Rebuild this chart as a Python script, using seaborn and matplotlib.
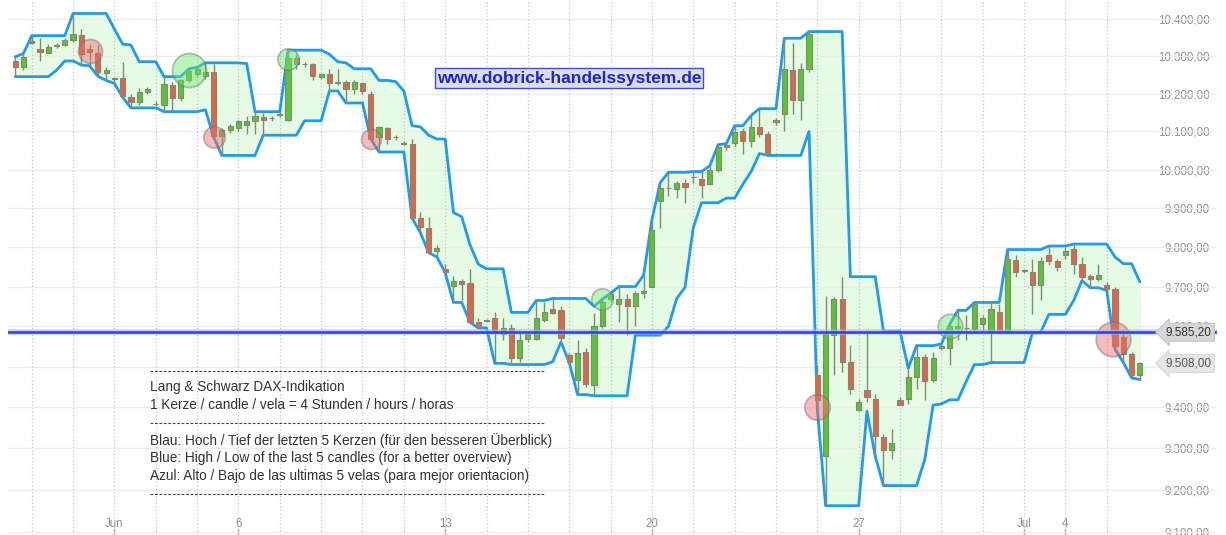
import numpy as np
import pandas as pd
import matplotlib
matplotlib.use("Agg")
import matplotlib.pyplot as plt
import seaborn as sns
from matplotlib.lines import Line2D
from matplotlib.ticker import NullLocator, NullFormatter

# 4h candles, Lang & Schwarz DAX indication (end of May .. 5 July)
opens = [
    10286, 10270, 10341, 10320, 10309, 10326, 10329, 10343, 10356, 10318,
    10308, 10255, 10240, 10241, 10191, 10178, 10205, 10172, 10170, 10222,
    10188, 10236, 10252, 10248, 10258, 10089, 10104, 10109, 10117, 10128,
    10138, 10134, 10143, 10130, 10294, 10278, 10278, 10244, 10252, 10229,
    10232, 10211, 10229, 10199, 10085, 10109, 10085, 10070, 10068, 9876,
    9848, 9790, 9745, 9702, 9713, 9710, 9612, 9615, 9620, 9582,
    9596, 9520, 9568, 9568, 9617, 9643, 9641, 9528, 9466, 9535,
    9455, 9601, 9668, 9655, 9668, 9651, 9683, 9700, 9919, 9951,
    9949, 9964, 9981, 9975, 9962, 9998, 10063, 10070, 10100, 10075,
    10111, 10094, 10124, 10146, 10262, 10184, 10266, 9480, 9282, 9578,
    9668, 9511, 9392, 9441, 9421, 9328, 9295, 9418, 9420, 9475,
    9523, 9466, 9546, 9547, 9596, 9596, 9594, 9605, 9589, 9636,
    9588, 9767, 9740, 9738, 9703, 9779, 9765, 9779, 9795, 9756,
    9727, 9718, 9704, 9694, 9573, 9530, 9478,
]
highs = [
    10298, 10307, 10355, 10348, 10332, 10334, 10349, 10415, 10373, 10332,
    10330, 10270, 10245, 10285, 10200, 10215, 10218, 10180, 10245, 10230,
    10240, 10266, 10270, 10282, 10280, 10108, 10120, 10130, 10140, 10152,
    10148, 10140, 10150, 10316, 10305, 10285, 10282, 10255, 10266, 10266,
    10235, 10235, 10232, 10207, 10115, 10112, 10090, 10074, 10080, 9889,
    9878, 9806, 9757, 9727, 9720, 9745, 9620, 9618, 9635, 9620,
    9605, 9583, 9585, 9665, 9660, 9670, 9650, 9534, 9567, 9545,
    9634, 9668, 9683, 9700, 9680, 9690, 9729, 9871, 9966, 9993,
    9970, 9975, 9995, 9995, 10010, 10065, 10068, 10115, 10110, 10142,
    10160, 10100, 10135, 10348, 10334, 10282, 10366, 9505, 9676, 9673,
    9725, 9553, 9420, 9588, 9433, 9335, 9348, 9425, 9496, 9552,
    9530, 9535, 9556, 9605, 9640, 9628, 9660, 9628, 9660, 9657,
    9794, 9780, 9745, 9770, 9775, 9803, 9770, 9800, 9808, 9775,
    9733, 9758, 9712, 9700, 9590, 9535, 9512,
]
lows = [
    10245, 10262, 10332, 10287, 10307, 10323, 10326, 10338, 10276, 10274,
    10246, 10235, 10227, 10190, 10162, 10170, 10200, 10166, 10152, 10157,
    10180, 10230, 10245, 10240, 10085, 10037, 10095, 10100, 10094, 10092,
    10090, 10128, 10138, 10128, 10265, 10270, 10236, 10240, 10207, 10222,
    10175, 10200, 10200, 10080, 10046, 10068, 10078, 10064, 9874, 9837,
    9786, 9775, 9735, 9660, 9665, 9610, 9596, 9612, 9508, 9565,
    9505, 9512, 9561, 9565, 9610, 9630, 9563, 9510, 9431, 9450,
    9428, 9595, 9660, 9612, 9578, 9600, 9670, 9698, 9850, 9932,
    9926, 9914, 9965, 9926, 9962, 9995, 10050, 10062, 10042, 10060,
    10085, 10037, 10117, 10100, 10146, 10131, 10258, 9395, 9162, 9478,
    9487, 9433, 9390, 9413, 9281, 9210, 9273, 9405, 9408, 9445,
    9418, 9463, 9540, 9505, 9567, 9567, 9585, 9587, 9510, 9583,
    9585, 9725, 9735, 9630, 9665, 9755, 9740, 9770, 9733, 9715,
    9697, 9715, 9690, 9543, 9510, 9472, 9468,
]
closes = [
    10270, 10297, 10335, 10311, 10324, 10331, 10343, 10359, 10305, 10311,
    10258, 10263, 10241, 10193, 10177, 10203, 10213, 10173, 10226, 10187,
    10235, 10261, 10265, 10257, 10089, 10104, 10113, 10127, 10128, 10140,
    10130, 10135, 10147, 10294, 10278, 10279, 10248, 10251, 10228, 10230,
    10211, 10232, 10207, 10081, 10112, 10081, 10086, 10066, 9876, 9851,
    9787, 9797, 9737, 9713, 9707, 9612, 9598, 9614, 9583, 9597,
    9522, 9567, 9580, 9620, 9636, 9633, 9571, 9511, 9534, 9458,
    9601, 9662, 9680, 9668, 9651, 9683, 9688, 9844, 9951, 9952,
    9964, 9955, 9982, 9960, 9998, 10060, 10058, 10099, 10075, 10111,
    10094, 10040, 10131, 10266, 10184, 10266, 10360, 9418, 9583, 9668,
    9511, 9445, 9412, 9424, 9330, 9295, 9312, 9406, 9475, 9523,
    9464, 9521, 9552, 9601, 9602, 9597, 9655, 9620, 9643, 9588,
    9770, 9738, 9741, 9703, 9764, 9765, 9750, 9791, 9756, 9723,
    9718, 9729, 9694, 9552, 9531, 9478, 9508,
]

# candle index of the first candle of each trading day
day_starts = [2, 7, 12, 17, 22, 27, 32, 37, 42, 47, 52, 57, 62, 67, 72,
              77, 82, 87, 92, 97, 102, 107, 112, 117, 122, 127, 132]
date_ticks = [12, 27, 52, 77, 102, 122, 127]
date_labels = ["Jun", "6", "13", "20", "27", "Jul", "4"]
price_ticks = [9100, 9200, 9300, 9400, 9500, 9600, 9700, 9800,
               9900, 10000, 10100, 10200, 10300, 10400]

last_quote = 9585.20
last_close = 9508.00

# signal circles: candle position, price, radius (px), type
sig_pos = [9, 21, 24, 33, 43, 71, 97, 113, 132.7]
sig_price = [10313, 10262, 10086, 10292, 10081, 9668, 9400, 9600, 9569]
sig_radius = [12, 17, 10.7, 10.7, 10, 10.7, 12.7, 12.3, 17.3]
sig_kind = ["sell", "buy", "sell", "buy", "sell", "buy", "sell", "buy", "sell"]

notes = [
    "Lang & Schwarz DAX-Indikation",
    "1 Kerze / candle / vela = 4 Stunden / hours / horas",
    "Blau: Hoch / Tief der letzten 5 Kerzen (für den besseren Überblick)",
    "Blue: High / Low of the last 5 candles (for a better overview)",
    "Azul: Alto / Bajo de las ultimas 5 velas (para mejor orientacion)",
]


def de_price(v):
    return f"{v:,.2f}".replace(",", "X").replace(".", ",").replace("X", ".")


def main():
    sns.set_theme(style="white")
    plt.rcParams["font.family"] = ["Liberation Sans", "DejaVu Sans"]

    W, H = 1226, 535
    fig = plt.figure(figsize=(W / 100, H / 100), dpi=100)
    ax = fig.add_axes([8 / W, 0, 1209 / W, 1])

    df = pd.DataFrame({"open": opens, "high": highs, "low": lows, "close": closes})
    df["idx"] = np.arange(len(df))
    df["upper"] = df["high"].rolling(5, min_periods=1).max()
    df["lower"] = df["low"].rolling(5, min_periods=1).min()

    ax.set_yscale("log")
    ax.set_xlim(-0.866, 145.33)
    ax.set_ylim(9092.3, 10451.6)

    # grid
    for p in price_ticks:
        ax.axhline(p, color="#ececec", lw=1, zorder=1.5)
    for d in day_starts:
        ax.axvline(d, color="#c6c6c6", lw=0.9, ls=(0, (1, 1.8)), zorder=1.5)

    # channel of the last 5 candles
    ax.fill_between(df["idx"], df["lower"], df["upper"], color="#e6fbe4", zorder=1)
    sns.lineplot(data=df, x="idx", y="upper", ax=ax, color="#1f9cf0", lw=2, zorder=3)
    sns.lineplot(data=df, x="idx", y="lower", ax=ax, color="#1f9cf0", lw=2, zorder=3)

    # candles
    up = df["close"] >= df["open"]
    body_col = np.where(up, "#5cc236", "#df654a")
    ax.vlines(df["idx"], df["low"], df["high"], color="#7f8b73", lw=1, zorder=4)
    bottom = np.minimum(df["open"], df["close"])
    height = np.maximum(np.abs(df["close"] - df["open"]), 1.0)
    ax.bar(df["idx"], height, bottom=bottom, width=0.62, color=body_col,
           edgecolor="#7f8b73", linewidth=0.8, zorder=5)

    # signal circles
    for pos, pr, r, kind in zip(sig_pos, sig_price, sig_radius, sig_kind):
        fc = "#f06a6a" if kind == "sell" else "#6ae86a"
        ax.scatter([pos], [pr], s=(2 * r * 0.72) ** 2, color=fc, alpha=0.45,
                   edgecolors="#6f6f6f", linewidths=1.3, zorder=6)

    # last quote line
    ax.axhline(last_quote, color="#9fb0ff", lw=4, alpha=0.6, zorder=7)
    ax.axhline(last_quote, color="#2a40f0", lw=1.8, zorder=7)

    # axes styling
    for s in ax.spines.values():
        s.set_visible(False)
    ax.set_xlabel("")
    ax.set_ylabel("")
    ax.yaxis.tick_right()
    ax.set_yticks(price_ticks, [de_price(p) for p in price_ticks])
    ax.yaxis.set_minor_locator(NullLocator())
    ax.yaxis.set_minor_formatter(NullFormatter())
    ax.tick_params(axis="y", which="major", length=0, pad=-5,
                   labelsize=8.3, labelcolor="#8e8e8e")
    for t in ax.get_yticklabels():
        t.set_horizontalalignment("right")
        t.set_bbox(dict(fc="white", ec="none", pad=1.0))
    ax.set_xticks(date_ticks, date_labels)
    ax.tick_params(axis="x", direction="in", length=4, width=1, color="#8e8e8e",
                   pad=-12, labelsize=8.3, labelcolor="#8e8e8e", bottom=True)

    # price boxes on the right
    trans = ax.get_yaxis_transform()
    ax.annotate(de_price(last_quote), xy=(1.0, last_quote), xycoords=trans,
                xytext=(-4, 0), textcoords="offset points", ha="right", va="center",
                fontsize=8.5, color="#333333", zorder=9,
                bbox=dict(boxstyle="larrow,pad=0.25", fc="#d6d6d6", ec="#c4c4c4", lw=0.8))
    ax.annotate(de_price(last_close), xy=(1.0, last_close), xycoords=trans,
                xytext=(-4, 0), textcoords="offset points", ha="right", va="center",
                fontsize=8.5, color="#555555", zorder=9,
                bbox=dict(boxstyle="larrow,pad=0.25", fc="#e6e6e6", ec="#d8d8d8", lw=0.8))

    # watermark
    fig.text(569 / W, 1 - 78 / H, "www.dobrick-handelssystem.de", ha="center", va="center",
             fontsize=12.5, fontweight="bold", color="#1a22f0", zorder=10,
             bbox=dict(boxstyle="square,pad=0.12", fc="#dedede", ec="#3a4cf0", lw=1))

    # notes block
    for yy in (371, 423, 494):
        fig.add_artist(Line2D([150 / W, 545 / W], [1 - yy / H] * 2, transform=fig.transFigure,
                              color="#444444", lw=0.8, ls=(0, (2.5, 1.5))))
    for txt, yy in zip(notes, (387, 405, 441, 458, 476)):
        fig.text(150 / W, 1 - yy / H, txt, ha="left", va="center", fontsize=9.8, color="#333333")

    fig.savefig("out.png", dpi=100)


if __name__ == "__main__":
    main()
